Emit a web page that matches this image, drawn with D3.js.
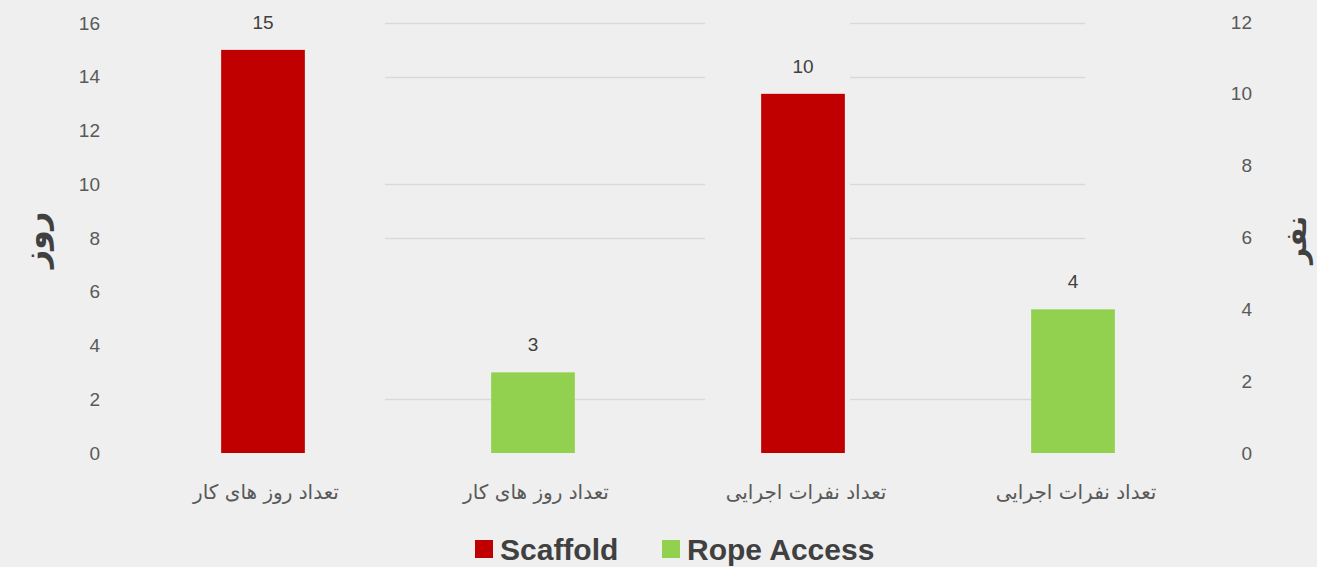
<!DOCTYPE html>
<html>
<head>
<meta charset="utf-8">
<script src="https://cdn.jsdelivr.net/npm/d3@7"></script>
<style>
  html, body { margin: 0; padding: 0; background: #efefef; }
  svg { display: block; }
</style>
</head>
<body>
<svg id="chart" width="1317" height="567"></svg>
<script>
// ---- data ----
const categories = ["تعداد روز های کار", "تعداد روز های کار", "تعداد نفرات اجرایی", "تعداد نفرات اجرایی"];
const series = ["Scaffold", "Rope Access", "Scaffold", "Rope Access"];
const values = [15, 3, 10, 4];
const axisOf = ["left", "left", "right", "right"];
const leftTicks = [0, 2, 4, 6, 8, 10, 12, 14, 16];
const rightTicks = [0, 2, 4, 6, 8, 10, 12];
const gridTicks = [16, 14, 10, 8, 2];
const legendNames = ["Scaffold", "Rope Access"];
const leftTitle = "روز";
const rightTitle = "نفر";

// ---- styles ----
const colors = { "Scaffold": "#c00000", "Rope Access": "#92d050" };
const W = 1317, H = 567;
const svg = d3.select("#chart");

svg.append("rect").attr("width", W).attr("height", H).attr("fill", "#efefef");

const x = d3.scaleBand().domain(d3.range(values.length)).range([128, 1208])
  .paddingInner(0.69).paddingOuter(0.345);
const yL = d3.scaleLinear().domain([0, 16]).range([453, 23]);
const yR = d3.scaleLinear().domain([0, 12]).range([453, 22]);

// gridlines (only partially visible in reference)
const gridSpans = [[385, 705], [850, 1085]];
const g = svg.append("g");
gridSpans.forEach(s => {
  g.selectAll(null).data(gridTicks).enter().append("line")
    .attr("x1", s[0]).attr("x2", s[1])
    .attr("y1", d => Math.round(yL(d)) + 0.5).attr("y2", d => Math.round(yL(d)) + 0.5)
    .attr("stroke", "#d9d9d9").attr("stroke-width", 1.5);
});

// left axis
const axL = d3.axisLeft(yL).tickValues(leftTicks).tickSize(0).tickPadding(0);
const gL = svg.append("g").attr("transform", "translate(100,0)").call(axL);
gL.select(".domain").remove();
gL.selectAll("text").attr("font-family", "Liberation Sans, Arial, sans-serif")
  .attr("font-size", 19).attr("fill", "#595959");

// right axis
const axR = d3.axisLeft(yR).tickValues(rightTicks).tickSize(0).tickPadding(0);
const gR = svg.append("g").attr("transform", "translate(1252,0)").call(axR);
gR.select(".domain").remove();
gR.selectAll("text").attr("font-family", "Liberation Sans, Arial, sans-serif")
  .attr("font-size", 19).attr("fill", "#595959");

const yOf = i => axisOf[i] === "left" ? yL : yR;

// bars
svg.selectAll(".bar").data(values).enter().append("rect")
  .attr("class", "bar")
  .attr("x", (d, i) => x(i))
  .attr("width", x.bandwidth())
  .attr("y", (d, i) => yOf(i)(d))
  .attr("height", (d, i) => yOf(i)(0) - yOf(i)(d))
  .attr("fill", (d, i) => colors[series[i]]);

// value labels
svg.selectAll(".val").data(values).enter().append("text")
  .attr("x", (d, i) => x(i) + x.bandwidth() / 2)
  .attr("y", (d, i) => yOf(i)(d) - 21)
  .attr("text-anchor", "middle")
  .attr("font-family", "Liberation Sans, Arial, sans-serif")
  .attr("font-size", 19).attr("fill", "#404040")
  .text(d => d);

// category labels
svg.selectAll(".cat").data(categories).enter().append("text")
  .attr("x", (d, i) => x(i) + x.bandwidth() / 2 + 3)
  .attr("y", 499)
  .attr("text-anchor", "middle")
  .attr("direction", "rtl")
  .attr("font-family", "DejaVu Sans, Noto Sans, sans-serif")
  .attr("font-size", 20).attr("fill", "#595959")
  .text(d => d);

// axis titles
svg.append("text")
  .attr("transform", "translate(46,240) rotate(-90)")
  .attr("text-anchor", "middle")
  .attr("font-family", "DejaVu Sans, sans-serif")
  .attr("font-size", 32).attr("font-weight", "bold").attr("fill", "#404040")
  .text(leftTitle);
svg.append("text")
  .attr("transform", "translate(1306,240) rotate(-90)")
  .attr("text-anchor", "middle")
  .attr("font-family", "DejaVu Sans, sans-serif")
  .attr("font-size", 28).attr("font-weight", "bold").attr("fill", "#404040")
  .text(rightTitle);

// legend
const legendX = [475, 662];
const lg = svg.selectAll(".lg").data(legendNames).enter().append("g")
  .attr("transform", (d, i) => `translate(${legendX[i]},540)`);
lg.append("rect").attr("width", 18).attr("height", 18).attr("fill", d => colors[d]);
lg.append("text").attr("x", 25).attr("y", 20)
  .attr("font-family", "Liberation Sans, Arial, sans-serif")
  .attr("font-size", 30).attr("font-weight", "bold").attr("fill", "#404040")
  .text(d => d);
</script>
</body>
</html>
